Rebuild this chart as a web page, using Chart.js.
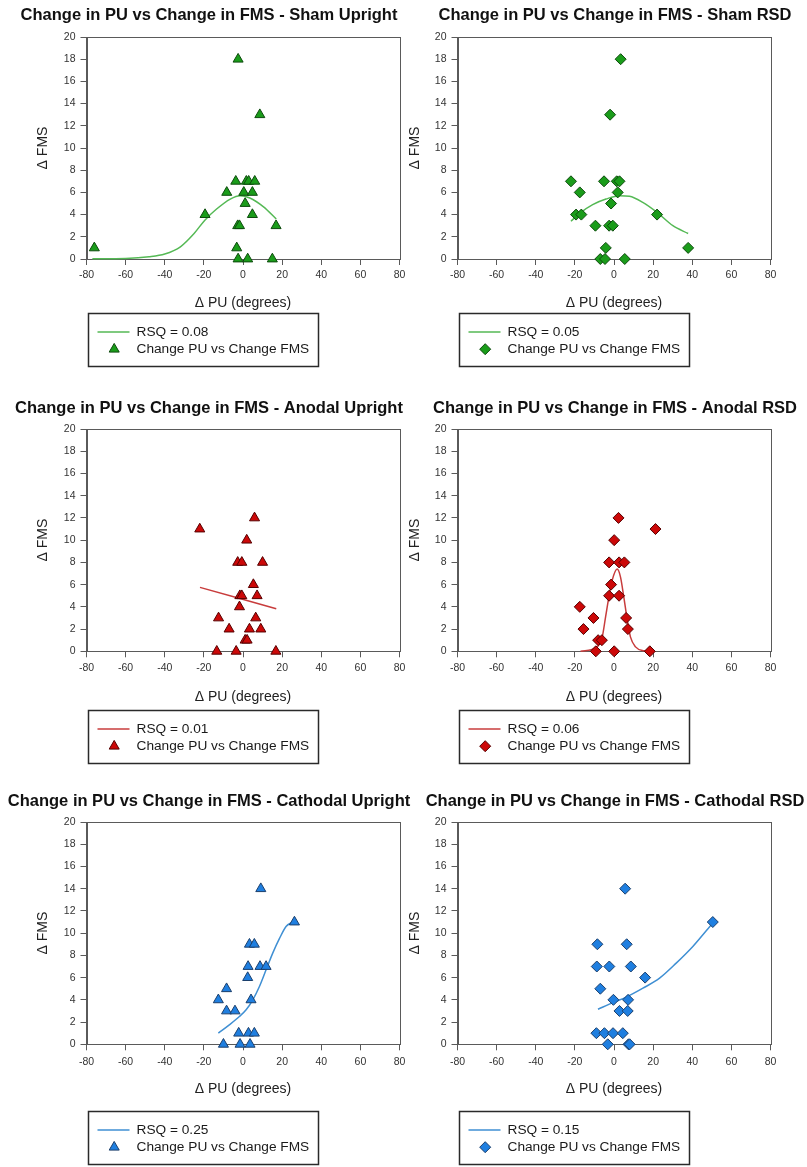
<!DOCTYPE html>
<html>
<head>
<meta charset="utf-8">
<title>Change in PU vs Change in FMS</title>
<script src="https://cdn.jsdelivr.net/npm/chart.js@4.4.1/dist/chart.umd.min.js"></script>
<style>
  html, body { margin: 0; padding: 0; background: #fff; overflow: hidden; }
  #page { position: relative; width: 807px; height: 1167px; }
  canvas { position: absolute; }
</style>
</head>
<body>
<div id="page"></div>
<script>
// ---- data ----
const titles = [
  "Change in PU vs Change in FMS - Sham Upright",
  "Change in PU vs Change in FMS - Sham RSD",
  "Change in PU vs Change in FMS - Anodal Upright",
  "Change in PU vs Change in FMS - Anodal RSD",
  "Change in PU vs Change in FMS - Cathodal Upright",
  "Change in PU vs Change in FMS - Cathodal RSD"
];
const rsqLabels = ["RSQ = 0.08", "RSQ = 0.05", "RSQ = 0.01", "RSQ = 0.06", "RSQ = 0.25", "RSQ = 0.15"];
const pointLabel = "Change PU vs Change FMS";
const xTitle = "\u0394 PU (degrees)";
const yTitle = "\u0394 FMS";

// Sham Upright
const shamUprightPU  = [-76, -2.5, 8.6, -3.7, 1.7, 2.9, 6, -8.3, 0.4, 4.8, 1.1, -19.4, 4.8, -2.7, -1.8, 16.9, -3.2, -2.5, 2.4, 15];
const shamUprightFMS = [1, 18, 13, 7, 7, 7, 7, 6, 6, 6, 5, 4, 4, 3, 3, 3, 1, 0, 0, 0];
const shamUprightFitPU  = [-77, -60, -48, -40, -32, -25, -19.5, -13.5, -6.5, -1.5, 3.5, 10.5, 17];
const shamUprightFitFMS = [0.02, 0.05, 0.2, 0.45, 1.1, 2.3, 3.5, 4.5, 5.4, 5.7, 5.5, 4.7, 3.6];

// Sham RSD
const shamRsdPU  = [3.4, -2, -22, -5.1, 1.4, 2.8, -17.5, 1.9, -1.5, -19.4, -16.7, 22, -9.5, -2.5, -0.6, -4.2, 37.9, -7, -4.6, 5.5];
const shamRsdFMS = [18, 13, 7, 7, 7, 7, 6, 6, 5, 4, 4, 4, 3, 3, 3, 1, 1, 0, 0, 0];
const shamRsdFitPU  = [-22, -17.7, -10.9, -4.1, 2.8, 7.9, 14.7, 22, 30.1, 37.9];
const shamRsdFitFMS = [3.4, 4.1, 4.9, 5.4, 5.7, 5.65, 5.1, 4.2, 3.0, 2.3];

// Anodal Upright
const anodalUprightPU  = [-22.1, 5.9, 1.9, -2.7, -0.6, 10, 5.3, -1.6, -0.6, 7.2, -1.8, -12.5, 6.5, -7.1, 3.3, 9.1, 1.1, 2.1, -13.4, -3.5, 16.8];
const anodalUprightFMS = [11, 12, 10, 8, 8, 8, 6, 5, 5, 5, 4, 3, 3, 2, 2, 2, 1, 1, 0, 0, 0];
const anodalUprightFitPU  = [-22, 17];
const anodalUprightFitFMS = [5.75, 3.83];

// Anodal RSD
const anodalRsdPU  = [2.3, 21.2, 0.1, -2.5, 2.6, 5.3, -1.5, -2.5, 2.6, -17.5, -10.5, 6.2, -15.6, 7.1, -8.1, -6.2, -9.3, 0.1, 18.3];
const anodalRsdFMS = [12, 11, 10, 8, 8, 8, 6, 5, 5, 4, 3, 3, 2, 2, 1, 1, 0, 0, 0];
const anodalRsdFitPU  = [-17.1, -8.6, -6, -4.3, -2.6, -0.9, 1.6, 3.3, 5, 6.8, 8.4, 11, 15.2, 18.7];
const anodalRsdFitFMS = [0, 0.4, 1.3, 3.1, 4.9, 6.4, 7.4, 6.7, 4.9, 2.8, 1.3, 0.4, 0.05, 0];

// Cathodal Upright
const cathodalUprightPU  = [9.1, 26.3, 3.3, 5.8, 2.6, 8.7, 11.8, 2.4, -8.4, -12.6, 4.1, -8.4, -4.1, -2.2, 2.8, 5.8, -10, -1.5, 3.6];
const cathodalUprightFMS = [14, 11, 9, 9, 7, 7, 7, 6, 5, 4, 4, 3, 3, 1, 1, 1, 0, 0, 0];
const cathodalUprightFitPU  = [-12.6, -7, -1.85, 1.6, 5, 8.4, 11.8, 15.2, 18.6, 22, 25.4];
const cathodalUprightFitFMS = [1.0, 1.75, 2.5, 3.1, 4.0, 5.2, 6.7, 8.2, 9.5, 10.6, 11.0];

// Cathodal RSD
const cathodalRsdPU  = [5.7, 50.5, -8.5, 6.5, -8.8, -2.4, 8.6, 15.9, -7, -0.3, 7.2, 2.8, 7, -9, -4.9, -0.5, 4.5, -3.2, 7.4, 8];
const cathodalRsdFMS = [14, 11, 9, 9, 7, 7, 7, 6, 5, 4, 4, 3, 3, 1, 1, 1, 1, 0, 0, 0];
const cathodalRsdFitPU  = [-8.2, -0.5, 6.3, 14.8, 23.3, 31.8, 40.3, 50.4];
const cathodalRsdFitFMS = [3.15, 3.75, 4.25, 5.05, 5.95, 7.3, 8.8, 10.9];

// ---- styling / layout ----
const FONT = '"Liberation Sans", Arial, Helvetica, sans-serif';
const colors = {
  sham:     { fill: "#1a9c1a", edge: "#0d4a0d", line: "#55b955" },
  anodal:   { fill: "#cc0808", edge: "#560000", line: "#c83c3c" },
  cathodal: { fill: "#1f7fe0", edge: "#1b3f6c", line: "#3f8fd3" }
};

// row / column geometry in canvas pixels (title is centred on the canvas)
const rows = [
  { top: 0,   height: 385, titleY: 15,   plotTop: 37, plotBottom: 259,   tickY: 275,   axisTitleY: 303.3, legendTop: 313.3 },
  { top: 385, height: 400, titleY: 23,   plotTop: 44, plotBottom: 266.3, tickY: 282.7, axisTitleY: 312,   legendTop: 325 },
  { top: 785, height: 382, titleY: 16.7, plotTop: 37, plotBottom: 259.3, tickY: 276.7, axisTitleY: 304.3, legendTop: 325.7 }
];
const cols = [
  { left: 0,   width: 418, plotLeft: 86.5, plotRight: 399.5, yTitleX: 43 },
  { left: 398, width: 434, plotLeft: 59.5, plotRight: 372.5, yTitleX: 17 }
];

const panels = [
  { title: titles[0], pu: shamUprightPU, fms: shamUprightFMS, fitPu: shamUprightFitPU, fitFms: shamUprightFitFMS, rsq: rsqLabels[0], shape: "triangle", color: colors.sham, row: 0, col: 0 },
  { title: titles[1], pu: shamRsdPU, fms: shamRsdFMS, fitPu: shamRsdFitPU, fitFms: shamRsdFitFMS, rsq: rsqLabels[1], shape: "rectRot", color: colors.sham, row: 0, col: 1 },
  { title: titles[2], pu: anodalUprightPU, fms: anodalUprightFMS, fitPu: anodalUprightFitPU, fitFms: anodalUprightFitFMS, rsq: rsqLabels[2], shape: "triangle", color: colors.anodal, row: 1, col: 0 },
  { title: titles[3], pu: anodalRsdPU, fms: anodalRsdFMS, fitPu: anodalRsdFitPU, fitFms: anodalRsdFitFMS, rsq: rsqLabels[3], shape: "rectRot", color: colors.anodal, row: 1, col: 1 },
  { title: titles[4], pu: cathodalUprightPU, fms: cathodalUprightFMS, fitPu: cathodalUprightFitPU, fitFms: cathodalUprightFitFMS, rsq: rsqLabels[4], shape: "triangle", color: colors.cathodal, row: 2, col: 0 },
  { title: titles[5], pu: cathodalRsdPU, fms: cathodalRsdFMS, fitPu: cathodalRsdFitPU, fitFms: cathodalRsdFitFMS, rsq: rsqLabels[5], shape: "rectRot", color: colors.cathodal, row: 2, col: 1 }
];

const TITLE_SIZE = 16.5, AXIS_TITLE_SIZE = 14, TICK_SIZE = 10.5, TICK_LEN = 6, LEGEND_SIZE = 13.7;

function pairs(xs, ys) {
  return xs.map((x, i) => ({ x: x, y: ys[i] }));
}

function drawMarker(ctx, shape, x, y, r) {
  ctx.beginPath();
  if (shape === "triangle") {
    ctx.moveTo(x, y - r);
    ctx.lineTo(x + r * 0.866, y + r / 2);
    ctx.lineTo(x - r * 0.866, y + r / 2);
  } else {
    ctx.moveTo(x - r, y);
    ctx.lineTo(x, y - r);
    ctx.lineTo(x + r, y);
    ctx.lineTo(x, y + r);
  }
  ctx.closePath();
  ctx.fill();
  ctx.stroke();
}

// frame around the plot area
const plotFrame = {
  id: "plotFrame",
  beforeDatasetsDraw(chart) {
    const a = chart.chartArea, ctx = chart.ctx;
    ctx.save();
    ctx.strokeStyle = "#5a5a5a";
    ctx.lineWidth = 1;
    ctx.strokeRect(Math.round(a.left) + 0.5, Math.round(a.top) + 0.5, Math.round(a.right - a.left), Math.round(a.bottom - a.top));
    ctx.restore();
  }
};

// boxed legend under the x-axis title
const boxLegend = {
  id: "boxLegend",
  afterDraw(chart, args, opts) {
    const ctx = chart.ctx;
    const left = Math.round(chart.chartArea.left) + 1.5;
    const top = Math.round(opts.top) + 0.5;
    ctx.save();
    ctx.strokeStyle = "#2a2a2a";
    ctx.lineWidth = 1.5;
    ctx.strokeRect(left, top, 230, 53);
    ctx.font = LEGEND_SIZE + "px " + FONT;
    ctx.textBaseline = "middle";
    chart.data.datasets.forEach((ds, i) => {
      const y = top + 18.4 + i * 17.3;
      if (ds.showLine) {
        ctx.strokeStyle = ds.borderColor;
        ctx.lineWidth = 1.5;
        ctx.beginPath();
        ctx.moveTo(left + 9, y);
        ctx.lineTo(left + 41, y);
        ctx.stroke();
      } else {
        ctx.fillStyle = ds.backgroundColor;
        ctx.strokeStyle = ds.borderColor;
        ctx.lineWidth = 1;
        drawMarker(ctx, ds.pointStyle, left + 25.7, y, ds.pointRadius);
      }
      ctx.fillStyle = "#1a1a1a";
      ctx.fillText(ds.label, left + 48, y);
    });
    ctx.restore();
  }
};

const page = document.getElementById("page");

panels.forEach(p => {
  const r = rows[p.row], c = cols[p.col];
  const canvas = document.createElement("canvas");
  canvas.width = c.width;
  canvas.height = r.height;
  canvas.style.left = c.left + "px";
  canvas.style.top = r.top + "px";
  canvas.style.width = c.width + "px";
  canvas.style.height = r.height + "px";
  page.appendChild(canvas);

  const titleLH = TITLE_SIZE * 1.2;
  const axisLH = AXIS_TITLE_SIZE * 1.2;
  const tickLH = TICK_SIZE * 1.2;
  const xHeight = r.axisTitleY - r.plotBottom + axisLH / 2;

  new Chart(canvas.getContext("2d"), {
    type: "scatter",
    data: {
      datasets: [
        {
          label: p.rsq,
          data: pairs(p.fitPu, p.fitFms),
          showLine: true,
          borderColor: p.color.line,
          backgroundColor: p.color.line,
          borderWidth: 1.5,
          pointRadius: 0,
          cubicInterpolationMode: "monotone",
          clip: false,
          order: 1
        },
        {
          label: pointLabel,
          data: pairs(p.pu, p.fms),
          showLine: false,
          pointStyle: p.shape,
          pointRadius: p.shape === "triangle" ? 5.8 : 5.5,
          backgroundColor: p.color.fill,
          borderColor: p.color.edge,
          borderWidth: 1,
          clip: false,
          order: 0
        }
      ]
    },
    options: {
      responsive: false,
      animation: false,
      events: [],
      layout: {
        padding: { left: 0, top: 0, right: 0, bottom: r.height - r.plotBottom - xHeight }
      },
      plugins: {
        legend: { display: false },
        tooltip: { enabled: false },
        title: {
          display: true,
          text: p.title,
          color: "#111",
          font: { family: FONT, size: TITLE_SIZE, weight: "bold", lineHeight: 1.2 },
          padding: { top: r.titleY - titleLH / 2, bottom: r.plotTop - r.titleY - titleLH / 2 }
        },
        boxLegend: { top: r.legendTop }
      },
      scales: {
        x: {
          type: "linear",
          min: -80,
          max: 80,
          afterFit: s => { s.height = xHeight; },
          ticks: {
            stepSize: 20,
            color: "#333",
            font: { family: FONT, size: TICK_SIZE },
            padding: r.tickY - r.plotBottom - TICK_LEN - tickLH / 2,
            maxRotation: 0
          },
          grid: { drawOnChartArea: false, drawTicks: true, tickLength: TICK_LEN, color: "#5a5a5a" },
          border: { display: true, color: "#5a5a5a" },
          title: {
            display: true,
            text: xTitle,
            color: "#222",
            font: { family: FONT, size: AXIS_TITLE_SIZE, lineHeight: 1.2 },
            padding: { top: 0, bottom: 0 }
          }
        },
        y: {
          type: "linear",
          min: 0,
          max: 20,
          afterFit: s => { s.width = c.plotLeft; },
          ticks: {
            stepSize: 2,
            color: "#333",
            font: { family: FONT, size: TICK_SIZE },
            padding: 5
          },
          grid: { drawOnChartArea: false, drawTicks: true, tickLength: TICK_LEN, color: "#5a5a5a" },
          border: { display: true, color: "#5a5a5a" },
          title: {
            display: true,
            text: yTitle,
            color: "#222",
            font: { family: FONT, size: AXIS_TITLE_SIZE, lineHeight: 1.2 },
            padding: { top: c.yTitleX - axisLH / 2, bottom: 0 }
          }
        },
        // empty right-hand axis: only reserves the right margin so the title stays centred on the canvas
        yRight: {
          type: "linear",
          position: "right",
          min: 0,
          max: 20,
          afterFit: s => { s.width = c.width - c.plotRight; },
          ticks: { display: false },
          grid: { display: false },
          border: { display: false },
          title: { display: false }
        }
      }
    },
    plugins: [plotFrame, boxLegend]
  });
});
</script>
</body>
</html>
